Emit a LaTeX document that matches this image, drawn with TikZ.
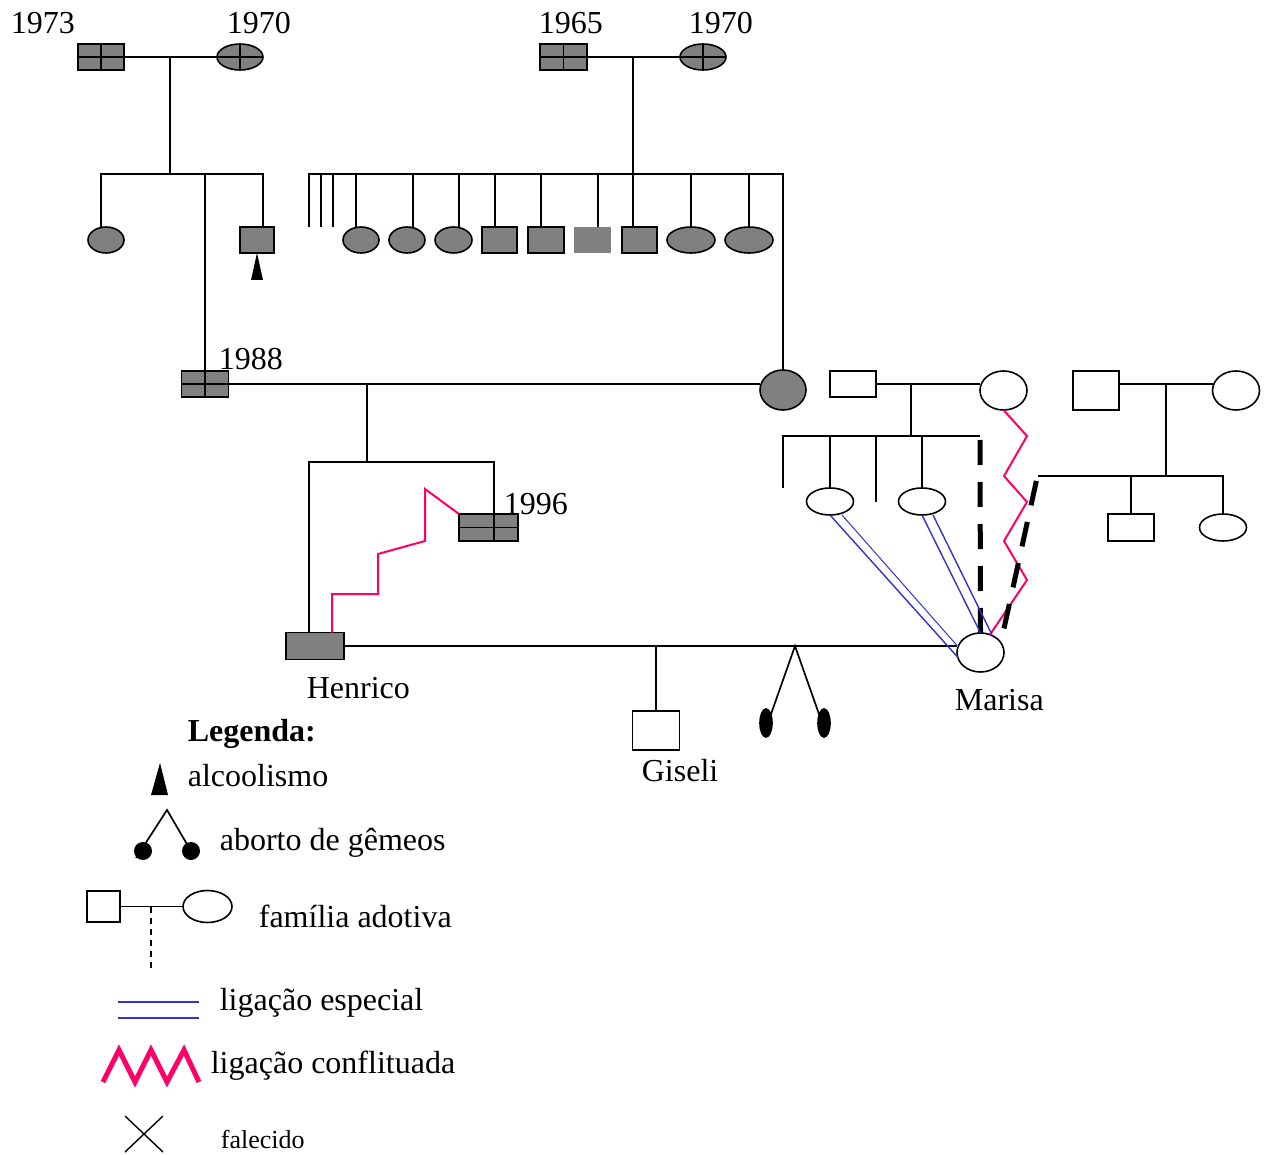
\documentclass[tikz,border=0pt]{standalone}
\usepackage{fontspec}
\setmainfont{Liberation Serif}
\usetikzlibrary{calc,shapes.geometric}
\definecolor{pgray}{HTML}{808080}
\definecolor{confpink}{HTML}{FF0066}
\definecolor{specblue}{HTML}{3333CC}
\begin{document}
\begin{tikzpicture}[x=1pt,y=-1pt,line width=1.7pt,
  person/.style={draw,line width=1.6pt,inner sep=0pt,outer sep=0pt},
  sq/.style 2 args={person,rectangle,minimum width=#1,minimum height=#2},
  el/.style 2 args={person,ellipse,minimum width=#1,minimum height=#2},
  filled/.style={fill=pgray},
  crossed/.style={path picture={\draw[line width=1.4pt] (path picture bounding box.north) -- (path picture bounding box.south) (path picture bounding box.west) -- (path picture bounding box.east);}},
  lbl/.style={anchor=base west,inner sep=0pt,font=\fontsize{32}{32}\selectfont},
  conflict/.style={draw=confpink,line width=2pt},
  special/.style={draw=specblue,line width=1.4pt},
  thinspecial/.style={draw=specblue,line width=1pt},
  heavydash/.style={line width=5pt,dash pattern=on 25pt off 17pt},
]
\useasboundingbox (0,0) rectangle (1266,1155);

% ---------- grandparents ----------
\node[sq={46pt}{26pt},filled,crossed] (p1973) at (101,57) {};
\node[el={46pt}{26pt},filled,crossed] (p1970a) at (240,57) {};
\node[sq={47pt}{26pt},filled,crossed] (p1965) at (563.5,57) {};
\node[el={46pt}{26pt},filled,crossed] (p1970b) at (703,57) {};
\node[lbl] (t1973) at (10,34) {1973};
\node[lbl] (t1970a) at (226,34) {1970};
\node[lbl] (t1965) at (538,34) {1965};
\node[lbl] (t1970b) at (688,34) {1970};

\draw (p1973.east) -- (p1970a.west);
\draw (p1965.east) -- (p1970b.west);

% ---------- children of left couple ----------
\node[el={36pt}{26pt},filled] (c1) at (106,240) {};
\node[sq={34pt}{26pt},filled] (c3) at (257,240) {};
\node[sq={47pt}{26pt},filled,crossed] (c2) at (205,384) {};
\node[lbl] (t1988) at (218,370) {1988};
\coordinate (j1) at (170,57);
\coordinate (k1) at (170,174);
\draw (j1) -- (k1);
\draw ($(c1.north)+(-5,0)$) |- (k1) -| ($(c3.north)+(6,0)$);
\draw (k1 -| c2.north) -- (c2.north);
\fill (c3.south) -- (251,280) -- (263,280) -- cycle;

% ---------- children of right couple ----------
\node[el={36pt}{26pt},filled] (s1) at (361,240) {};
\node[el={36pt}{26pt},filled] (s2) at (407,240) {};
\node[el={37pt}{26pt},filled] (s3) at (453.5,240) {};
\node[sq={35pt}{26pt},filled] (s4) at (499.5,240) {};
\node[sq={36pt}{26pt},filled] (s5) at (546,240) {};
\node[rectangle,fill=pgray,inner sep=0pt,minimum width=37pt,minimum height=26pt] (s6) at (592.5,240) {};
\node[sq={35pt}{26pt},filled] (s7) at (639.5,240) {};
\node[el={48pt}{26pt},filled] (s8) at (691,240) {};
\node[el={48pt}{26pt},filled] (s9) at (749,240) {};
\node[el={46pt}{40pt},filled] (mother) at (783,390) {};
\coordinate (j2) at (633,57);
\coordinate (k2) at (633,174);
\coordinate (b0) at (309,174);
\coordinate (st1) at (309,227);
\coordinate (st2) at (321,227);
\coordinate (st3) at (333,227);
\draw (j2) -- (k2);
\draw (st1) -- (b0) -| (mother.north);
\draw (st2) -- (st2 |- b0);
\draw (st3) -- (st3 |- b0);
\foreach \s/\xx in {s1/356,s2/413,s3/459,s4/495,s5/541,s6/598,s7/633,s8/691,s9/749}
  \draw (\xx,174) -- (\xx,227);

% ---------- parents of Henrico ----------
\coordinate (m1) at (367,384);
\draw (c2.east) -- (mother.west |- m1);
\coordinate (k3) at (367,462);
\draw (m1) -- (k3);
\node[sq={59pt}{27pt},filled] (h96) at (488.5,527.5) {};
\draw[line width=1.4pt] (494,514) -- (494,541) (h96.west) -- (h96.east);
\node[lbl] (t1996) at (503,514) {1996};
\node[sq={58pt}{27pt},filled] (henrico) at (315,646) {};
\node[lbl] (thenrico) at (306,698) {Henrico};
\coordinate (hb) at (309,462);
\coordinate (hr) at (494,462);
\draw (hb |- henrico.north) -- (hb) -- (hr) -- (hr |- h96.north);
\draw[conflict] ($(henrico.north)+(17,0)$) -- (332,594) -- (378,594) -- (378,554) -- (425,541) -- (425,489) -- (h96.north west);

% ---------- Henrico & Marisa ----------
\node[el={47pt}{39pt}] (marisa) at (980.5,652.5) {};
\node[lbl] (tmarisa) at (954,710) {Marisa};
\draw (henrico.east) -- (henrico.east -| marisa.west);
\node[sq={47pt}{39pt}] (giseli) at (656,730.5) {};
\node[lbl] (tgiseli) at (641,781) {Giseli};
\draw (giseli.north |- henrico.east) -- (giseli.north);
\node[el={12pt}{28pt},fill=black] (tw1) at (766,723) {};
\node[el={12pt}{28pt},fill=black] (tw2) at (824,723) {};
\coordinate (apex) at (795,646);
\draw (tw1.60) -- (apex) -- (tw2.120);

% ---------- adoptive family (left) ----------
\node[sq={46pt}{26pt}] (af1) at (853,384) {};
\node[el={47pt}{39pt}] (am1) at (1003.5,390.5) {};
\draw (af1.east) -- (am1.west |- af1.east);
\node[el={47pt}{27pt}] (ac1) at (830,501.5) {};
\node[el={47pt}{27pt}] (ac2) at (922,501.5) {};
\coordinate (j4) at (911,384);
\coordinate (k4) at (911,436);
\coordinate (bl) at (783,436);
\coordinate (br) at (980,436);
\draw (j4) -- (k4);
\draw (783,488) -- (bl) -- (br);
\draw (ac1.north |- bl) -- (ac1.north);
\draw (876,436) -- (876,502);
\draw (ac2.north |- bl) -- (ac2.north);
\draw[heavydash] (980,440) -- (marisa.north);
\draw[conflict] (am1.south) -- (1027,436) -- (1004,476) -- (1027,502) -- (1004,541) -- (1027,580) -- (marisa.62);
\draw[heavydash,dash phase=-3pt] (1037,478) -- (1003,633);
\draw[special] (ac1.south) -- ($(marisa.west)+(1,5)$);
\draw[thinspecial] ($(ac1.south)+(12,0)$) -- ($(marisa.west)+(0,-7)$);
\draw[special] (ac2.south) -- (marisa.north);
\draw[special] ($(ac2.south)+(11,0)$) -- ($(marisa.62)+(2,0)$);

% ---------- adoptive family (right) ----------
\node[sq={46pt}{39pt}] (af2) at (1096,390.5) {};
\node[el={47pt}{39pt}] (am2) at (1236,390.5) {};
\coordinate (m2) at (1166,384);
\draw (af2.east |- m2) -- (am2.west |- m2);
\node[sq={46pt}{27pt}] (bc1) at (1131,527.5) {};
\node[el={47pt}{27pt}] (bc2) at (1223,527.5) {};
\coordinate (k5) at (1166,476);
\draw (m2) -- (k5);
\draw (1038,476) -- (bc2.north |- k5) -- (bc2.north);
\draw (bc1.north |- k5) -- (bc1.north);

% ---------- legend ----------
\node[lbl,font=\bfseries\fontsize{32}{32}\selectfont] (leg) at (187,741) {Legenda:};
\fill (160,763) -- (151,795) -- (168,795) -- cycle;
\node[lbl] (lalc) at (187,786) {alcoolismo};
\draw (136,858) -- (167,810) -- (191,851);
\fill (143,851) circle (9);
\fill (191,851) circle (9);
\node[lbl] (labo) at (219,850) {aborto de gêmeos};
\node[sq={33pt}{31pt}] (lsq) at (103.5,906.5) {};
\node[el={49pt}{32pt}] (lel) at (207.5,906.5) {};
\draw (lsq.east) -- (lel.west);
\draw[line width=1.2pt,dash pattern=on 6pt off 5pt] (151,907) -- (151,970);
\node[lbl] (ladot) at (258,927) {família adotiva};
\draw[special,line width=1.6pt] (118,1002) -- (199,1002) (118,1018) -- (199,1018);
\node[lbl] (lesp) at (219,1010) {ligação especial};
\draw[confpink,line width=5pt] (103,1082) -- (119,1050) -- (135,1082) -- (151,1050) -- (167,1082) -- (184,1050) -- (199,1082);
\node[lbl] (lconf) at (210,1073) {ligação conflituada};
\draw[line width=1.4pt] (125,1116) -- (163,1152) (163,1116) -- (125,1152);
\node[lbl,font=\fontsize{26}{26}\selectfont] (lfal) at (220,1148) {falecido};
\end{tikzpicture}
\end{document}
